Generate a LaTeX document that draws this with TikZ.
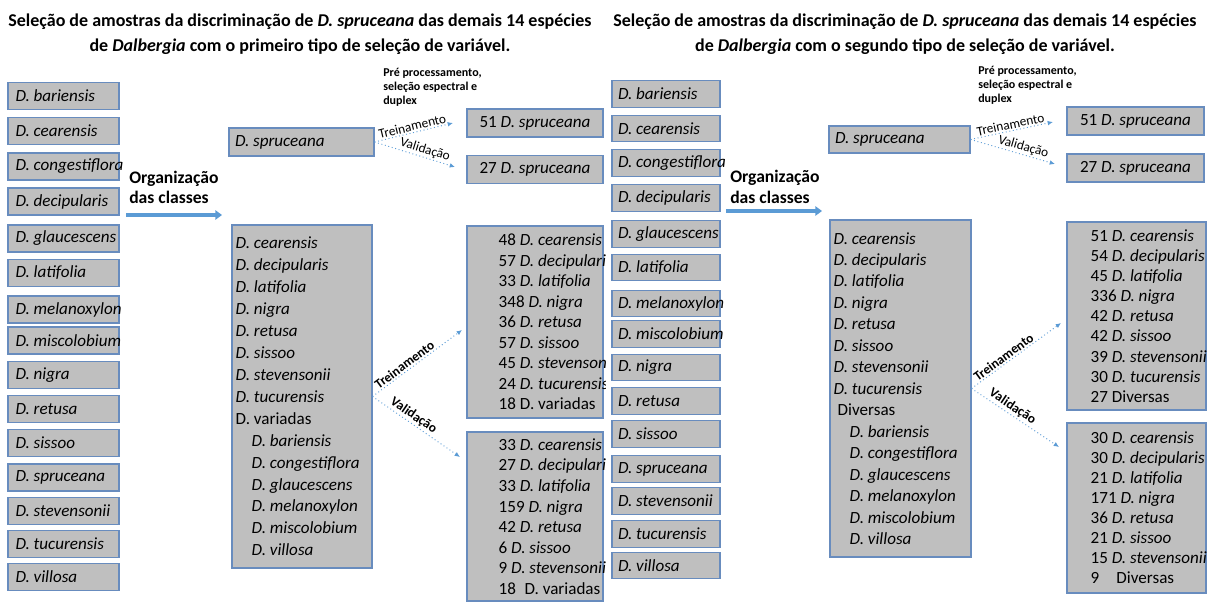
\documentclass[tikz,border=0pt]{standalone}
\usepackage{fontspec}
\setmainfont{Carlito}
\usetikzlibrary{arrows.meta,positioning}

\definecolor{boxgray}{RGB}{191,191,191}
\definecolor{boxline}{RGB}{104,140,190}
\definecolor{flowblue}{RGB}{91,155,213}

\newcommand{\sname}[2][72pt]{\makebox[#1][l]{\itshape D. #2}}

\tikzset{
    specbox/.style={draw=boxline, fill=boxgray, line width=0.8pt, inner xsep=0pt, font=\fontsize{12.8}{15}\selectfont},
    leftcol/.style={specbox, minimum width=83.25pt, minimum height=20.25pt},
    rightcol/.style={specbox, minimum width=81pt, minimum height=20pt},
    listtxt/.style={align=left, inner sep=0pt, font=\fontsize{12.8}{#1}\selectfont},
    titletxt/.style={align=center, font=\fontsize{13.5}{18.5}\selectfont\bfseries},
    orgtxt/.style={align=left, anchor=west, inner sep=0pt, font=\fontsize{13.2}{15.5}\selectfont\bfseries},
    pretxt/.style={align=left, anchor=west, inner sep=0pt, font=\fontsize{9}{10.5}\selectfont\bfseries},
    splitarrow/.style={draw=flowblue, dotted, line width=0.7pt, -{Latex[length=4pt,width=3.5pt]}},
    orgarrow/.style={draw=flowblue, line width=2.4pt, -{Triangle[length=5pt,width=7pt]}},
    splitlabel/.style={sloped, above, inner sep=1pt, font=\fontsize{10}{12}\selectfont},
}

\begin{document}
\begin{tikzpicture}[x=0.75pt, y=-0.75pt]
        \useasboundingbox (0,0) rectangle (1213,603);

        % primeiro tipo de selecao
        \node[titletxt] (p1title) at (300,34) {Seleção de amostras da discriminação de \textit{D. spruceana} das demais 14 espécies\\ de \textit{Dalbergia} com o primeiro tipo de seleção de variável.};

        \node[leftcol] (p1bar) at (63.5,96) {\sname{bariensis}};
        \node[leftcol] (p1cea) at (63.5,131) {\sname{cearensis}};
        \node[leftcol] (p1con) at (63.5,166.5) {\sname{congestiflora}};
        \node[leftcol] (p1dec) at (63.5,201.5) {\sname{decipularis}};
        \node[leftcol] (p1gla) at (63.5,238.5) {\sname{glaucescens}};
        \node[leftcol] (p1lat) at (63.5,273) {\sname{latifolia}};
        \node[leftcol] (p1mel) at (63.5,309.5) {\sname{melanoxylon}};
        \node[leftcol] (p1mis) at (63.5,340.5) {\sname{miscolobium}};
        \node[leftcol] (p1nig) at (63.5,375) {\sname{nigra}};
        \node[leftcol] (p1ret) at (63.5,409) {\sname{retusa}};
        \node[leftcol] (p1sis) at (63.5,443) {\sname{sissoo}};
        \node[leftcol] (p1spr) at (63.5,477.5) {\sname{spruceana}};
        \node[leftcol] (p1ste) at (63.5,511) {\sname{stevensonii}};
        \node[leftcol] (p1tuc) at (63.5,544) {\sname{tucurensis}};
        \node[leftcol] (p1vil) at (63.5,577) {\sname{villosa}};

        \node[orgtxt] (p1org) at (129,187.5) {Organização\\ das classes};
        \coordinate (p1orgA) at (126,215);
        \coordinate (p1orgB) at (222,215);
        \draw[orgarrow] (p1orgA) -- (p1orgB);

        \node[specbox, minimum width=108.75pt, minimum height=21pt] (p1sp) at (301.5,142) {\sname[99.75pt]{spruceana}};
        \node[pretxt] (p1pre) at (383,87) {Pré processamento,\\ seleção espectral e\\ duplex};
        \node[specbox, minimum width=102pt, minimum height=21pt] (p1t51) at (535,123) {51 \textit{D. spruceana}};
        \node[specbox, minimum width=102pt, minimum height=21pt] (p1v27) at (535,169.5) {27 \textit{D. spruceana}};

        \coordinate (p1tTip) at (453,123);
        \coordinate (p1vTip) at (455,167);
        \draw[splitarrow] (p1sp.east) -- node[splitlabel, pos=0.5] {Treinamento} (p1tTip);
        \draw[splitarrow] (p1sp.east) -- node[splitlabel, pos=0.6] {Validação} (p1vTip);

        \node[specbox, minimum width=105pt, minimum height=257.25pt] (p1mix) at (302,396.5) {};
        \node[listtxt=16.45pt, right=3pt of p1mix.west] (p1mixtxt) {\textit{D. cearensis}\\ \textit{D. decipularis}\\ \textit{D. latifolia}\\ \textit{D. nigra}\\ \textit{D. retusa}\\ \textit{D. sissoo}\\ \textit{D. stevensonii}\\ \textit{D. tucurensis}\\ D. variadas\\ \hspace*{12pt}\textit{D. bariensis}\\ \hspace*{12pt}\textit{D. congestiflora}\\ \hspace*{12pt}\textit{D. glaucescens}\\ \hspace*{12pt}\textit{D. melanoxylon}\\ \hspace*{12pt}\textit{D. miscolobium}\\ \hspace*{12pt}\textit{D. villosa}};

        \node[specbox, minimum width=102pt, minimum height=144pt] (p1tr) at (535,322) {};
        \node[listtxt=15.4pt, right=24pt of p1tr.west] (p1trtxt) {48 \textit{D. cearensis}\\ 57 \textit{D. decipularis}\\ 33 \textit{D. latifolia}\\ 348 \textit{D. nigra}\\ 36 \textit{D. retusa}\\ 57 \textit{D. sissoo}\\ 45 \textit{D. stevensonii}\\ 24 \textit{D. tucurensis}\\ 18 D. variadas};
        \node[specbox, minimum width=102pt, minimum height=126.75pt] (p1va) at (535,516.5) {};
        \node[listtxt=15.4pt, right=24pt of p1va.west] (p1vatxt) {33 \textit{D. cearensis}\\ 27 \textit{D. decipularis}\\ 33 \textit{D. latifolia}\\ 159 \textit{D. nigra}\\ 42 \textit{D. retusa}\\ 6 \textit{D. sissoo}\\ 9 \textit{D. stevensonii}\\ 18\enspace D. variadas};

        \coordinate (p1trTip) at (462,330);
        \coordinate (p1vaTip) at (460,457);
        \draw[splitarrow] (p1mix.east) -- node[splitlabel, pos=0.4, font=\fontsize{10}{12}\selectfont\bfseries] {Treinamento} (p1trTip);
        \draw[splitarrow] (p1mix.east) -- node[splitlabel, pos=0.42, font=\fontsize{10}{12}\selectfont\bfseries] {Validação} (p1vaTip);

        % segundo tipo de selecao
        \fill[white] (606,0) rectangle (1213,603);

        \node[titletxt] (p2title) at (905,34) {Seleção de amostras da discriminação de \textit{D. spruceana} das demais 14 espécies\\ de \textit{Dalbergia} com o segundo tipo de seleção de variável.};

        \node[rightcol] (p2bar) at (666,94) {\sname{bariensis}};
        \node[rightcol] (p2cea) at (666,128.5) {\sname{cearensis}};
        \node[rightcol] (p2con) at (666,163) {\sname{congestiflora}};
        \node[rightcol] (p2dec) at (666,198) {\sname{decipularis}};
        \node[rightcol] (p2gla) at (666,234) {\sname{glaucescens}};
        \node[rightcol] (p2lat) at (666,267.5) {\sname{latifolia}};
        \node[rightcol] (p2mel) at (666,303.5) {\sname{melanoxylon}};
        \node[rightcol] (p2mis) at (666,334) {\sname{miscolobium}};
        \node[rightcol] (p2nig) at (666,367.5) {\sname{nigra}};
        \node[rightcol] (p2ret) at (666,401) {\sname{retusa}};
        \node[rightcol] (p2sis) at (666,434) {\sname{sissoo}};
        \node[rightcol] (p2spr) at (666,469) {\sname{spruceana}};
        \node[rightcol] (p2ste) at (666,501) {\sname{stevensonii}};
        \node[rightcol] (p2tuc) at (666,534) {\sname{tucurensis}};
        \node[rightcol] (p2vil) at (666,565.5) {\sname{villosa}};

        \node[orgtxt] (p2org) at (730,187) {Organização\\ das classes};
        \coordinate (p2orgA) at (726,211);
        \coordinate (p2orgB) at (822,211);
        \draw[orgarrow] (p2orgA) -- (p2orgB);

        \node[specbox, minimum width=105.75pt, minimum height=20.25pt] (p2sp) at (899.5,139.5) {\sname[96.75pt]{spruceana}};
        \node[pretxt] (p2pre) at (978,85) {Pré processamento,\\ seleção espectral e\\ duplex};
        \node[specbox, minimum width=102.75pt, minimum height=21pt] (p2t51) at (1135.5,121) {51 \textit{D. spruceana}};
        \node[specbox, minimum width=102.75pt, minimum height=21pt] (p2v27) at (1135.5,168) {27 \textit{D. spruceana}};

        \coordinate (p2tTip) at (1053,122);
        \coordinate (p2vTip) at (1055,164);
        \draw[splitarrow] (p2sp.east) -- node[splitlabel, pos=0.5] {Treinamento} (p2tTip);
        \draw[splitarrow] (p2sp.east) -- node[splitlabel, pos=0.6] {Validação} (p2vTip);

        \node[specbox, minimum width=105.75pt, minimum height=252.75pt] (p2mix) at (900.5,388.5) {};
        \node[listtxt=16.1pt, right=3pt of p2mix.west] (p2mixtxt) {\textit{D. cearensis}\\ \textit{D. decipularis}\\ \textit{D. latifolia}\\ \textit{D. nigra}\\ \textit{D. retusa}\\ \textit{D. sissoo}\\ \textit{D. stevensonii}\\ \textit{D. tucurensis}\\ \hspace*{3pt}Diversas\\ \hspace*{12pt}\textit{D. bariensis}\\ \hspace*{12pt}\textit{D. congestiflora}\\ \hspace*{12pt}\textit{D. glaucescens}\\ \hspace*{12pt}\textit{D. melanoxylon}\\ \hspace*{12pt}\textit{D. miscolobium}\\ \hspace*{12pt}\textit{D. villosa}};

        \node[specbox, minimum width=104.25pt, minimum height=141pt] (p2tr) at (1136.5,316) {};
        \node[listtxt=15.1pt, right=18pt of p2tr.west] (p2trtxt) {51 \textit{D. cearensis}\\ 54 \textit{D. decipularis}\\ 45 \textit{D. latifolia}\\ 336 \textit{D. nigra}\\ 42 \textit{D. retusa}\\ 42 \textit{D. sissoo}\\ 39 \textit{D. stevensonii}\\ 30 \textit{D. tucurensis}\\ 27 Diversas};
        \node[specbox, minimum width=104.25pt, minimum height=127.5pt] (p2va) at (1136.5,508) {};
        \node[listtxt=15pt, right=18pt of p2va.west] (p2vatxt) {30 \textit{D. cearensis}\\ 30 \textit{D. decipularis}\\ 21 \textit{D. latifolia}\\ 171 \textit{D. nigra}\\ 36 \textit{D. retusa}\\ 21 \textit{D. sissoo}\\ 15 \textit{D. stevensonii}\\ 9\enspace\enspace Diversas};

        \coordinate (p2trTip) at (1061,323);
        \coordinate (p2vaTip) at (1059,447);
        \draw[splitarrow] (p2mix.east) -- node[splitlabel, pos=0.4, font=\fontsize{10}{12}\selectfont\bfseries] {Treinamento} (p2trTip);
        \draw[splitarrow] (p2mix.east) -- node[splitlabel, pos=0.42, font=\fontsize{10}{12}\selectfont\bfseries] {Validação} (p2vaTip);

\end{tikzpicture}
\end{document}
